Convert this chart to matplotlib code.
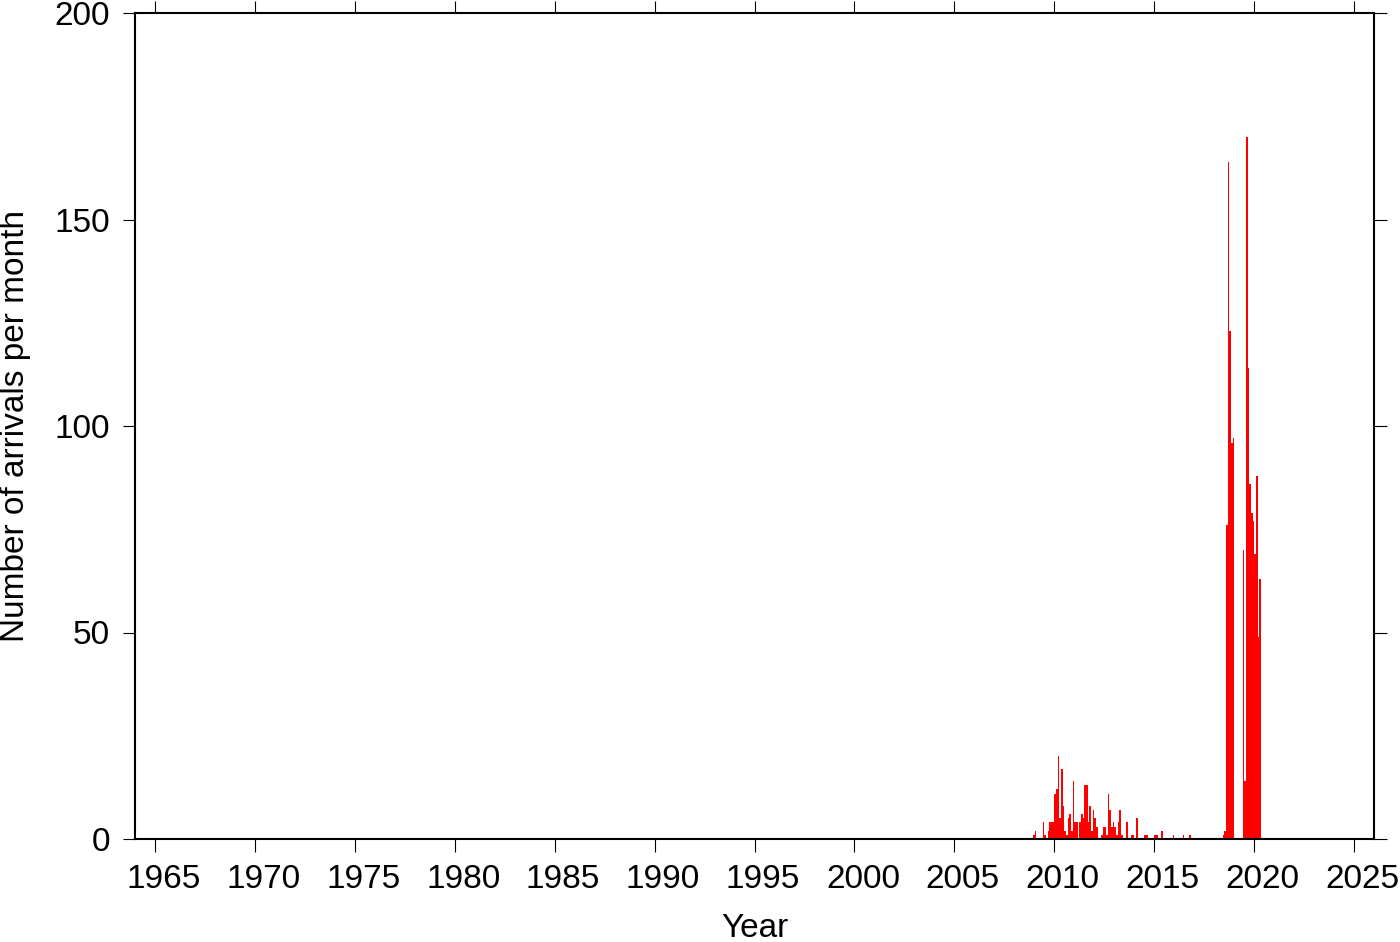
import numpy as np
import matplotlib
matplotlib.use("Agg")
import matplotlib.pyplot as plt
import matplotlib.transforms as mtransforms

# ---- data: monthly arrival counts starting January 2009 ----
start_year = 2009
counts = [
    # 2009
    1, 2, 0, 0, 0, 0, 4, 1, 0, 2, 4, 4,
    # 2010
    4, 11, 12, 20, 5, 17, 8, 2, 1, 5, 6, 2,
    # 2011
    14, 4, 4, 0, 4, 6, 5, 13, 13, 4, 8, 2,
    # 2012
    7, 5, 3, 0, 0, 1, 3, 3, 1, 11, 7, 3,
    # 2013
    4, 3, 1, 4, 7, 1, 0, 0, 4, 0, 0, 1,
    # 2014
    1, 0, 5, 0, 0, 0, 0, 1, 1, 0, 0, 0,
    # 2015
    0, 1, 1, 0, 0, 2, 0, 0, 0, 0, 0, 0,
    # 2016
    1, 0, 0, 0, 0, 0, 1, 0, 0, 0, 1, 0,
    # 2017
    0, 0, 0, 0, 0, 0, 0, 0, 0, 0, 0, 0,
    # 2018
    0, 0, 0, 0, 0, 0, 1, 2, 76, 164, 123, 96,
    # 2019
    97, 0, 0, 0, 0, 0, 70, 14, 170, 114, 86, 79,
    # 2020
    77, 69, 88, 49, 63,
]
x_ticks = [1965, 1970, 1975, 1980, 1985, 1990, 1995, 2000, 2005, 2010, 2015, 2020, 2025]
y_ticks = [0, 50, 100, 150, 200]
x_label = "Year"
y_label = "Number of arrivals per month"

plt.rcParams['font.family'] = ['Liberation Sans', 'DejaVu Sans']

fig = plt.figure(figsize=(14, 9.42), dpi=100)
ax = fig.add_axes([135/1400, 1 - 839/942, (1374 - 135)/1400, (839 - 13)/942])

xs = start_year + np.arange(len(counts)) / 12.0 - 0.03
ax.bar(xs, counts, width=1/12, color='#ff0000', linewidth=0, align='center')

ax.set_xlim(1964, 2026)
ax.set_ylim(0, 200)
ax.set_xticks(x_ticks)
ax.set_yticks(y_ticks)
ax.set_xticklabels([str(t) for t in x_ticks])
ax.set_yticklabels([str(t) for t in y_ticks])

for s in ax.spines.values():
    s.set_linewidth(1.5)
    s.set_color('black')

ax.tick_params(axis='both', which='major', direction='out', length=9, width=0.8,
               labelsize=24, colors='black', top=True, right=True,
               labeltop=False, labelright=False)
ax.tick_params(axis='x', pad=9)
ax.tick_params(axis='y', pad=9)

# x annotations sit slightly right of their ticks in the reference
shift = mtransforms.ScaledTranslation(8.5/100, 0, fig.dpi_scale_trans)
for lbl in ax.get_xticklabels():
    lbl.set_transform(lbl.get_transform() + shift)

ax.set_xlabel(x_label, fontsize=24, labelpad=13)
ax.set_ylabel(y_label, fontsize=24, labelpad=17)

fig.savefig("out.png", dpi=100)
